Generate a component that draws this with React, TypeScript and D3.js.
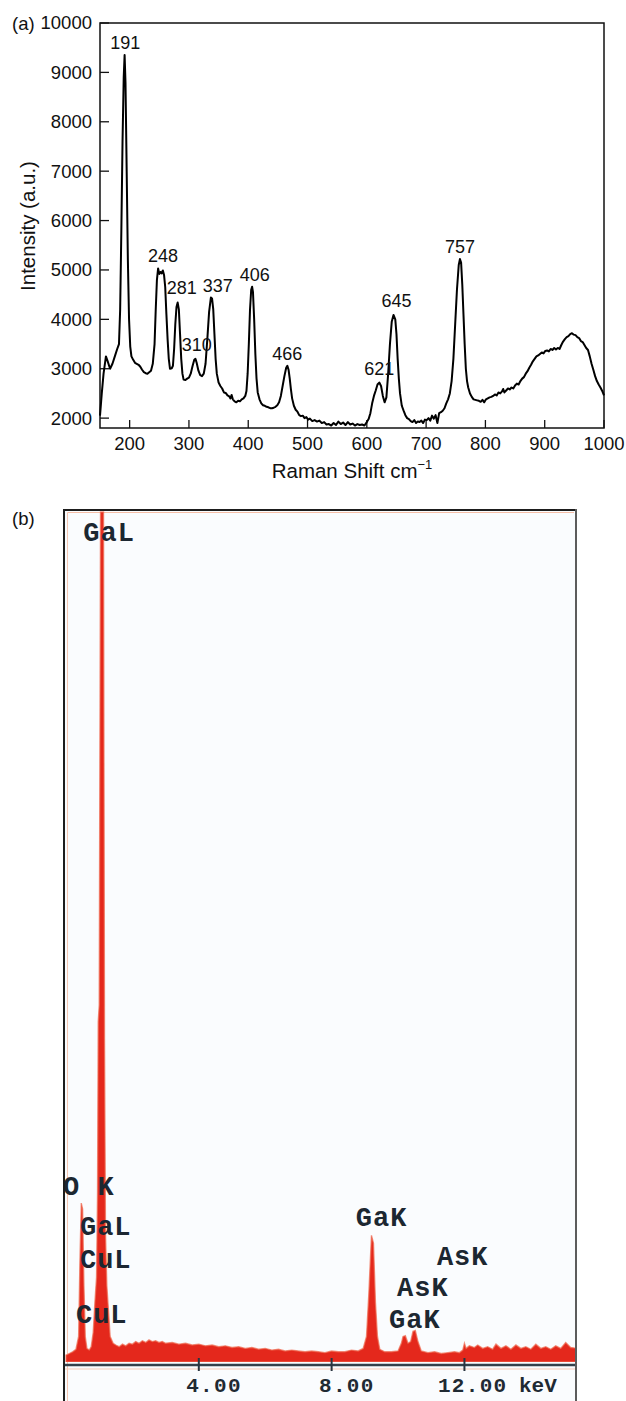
import React from 'react';
import * as d3 from 'd3';

// (a) Raman spectrum: [shift cm-1, intensity a.u.]
const ramanPoints: [number, number][] = [
  [150, 2050], [153, 2500], [156, 2900], [160, 3250], [163, 3150], [167, 3000], [171, 3100],
  [175, 3250], [179, 3400], [182, 3500], [184, 4200], [186, 5800], [188, 7600], [190, 8900],
  [191.5, 9350], [193, 8800], [195, 7000], [197, 5200], [199, 4000], [201, 3450], [203, 3250],
  [206, 3180], [209, 3120], [212, 3100], [215, 3080], [218, 3040], [221, 2980], [224, 2930],
  [227, 2910], [230, 2900], [233, 2930], [236, 2960], [239, 3100], [242, 3500], [244, 4200],
  [246, 4800], [248, 5030], [250, 4920], [252, 4960], [254, 4930], [256, 4990], [258, 4900],
  [260, 4650], [262, 4100], [264, 3600], [266, 3200], [268, 3000], [271, 3010], [273, 3060],
  [275, 3400], [277, 3900], [279, 4250], [281, 4340], [283, 4200], [285, 3700], [287, 3200],
  [289, 2900], [291, 2780], [294, 2770], [297, 2800], [300, 2820], [303, 2900], [306, 3050],
  [309, 3180], [311, 3200], [313, 3120], [316, 2960], [319, 2870], [322, 2850], [325, 2900],
  [328, 3100], [331, 3600], [334, 4150], [337, 4440], [339, 4420], [341, 4200], [343, 3700],
  [345, 3200], [347, 2900], [350, 2720], [353, 2650], [356, 2600], [359, 2520], [362, 2510],
  [365, 2460], [368, 2440], [370, 2400], [372, 2470], [374, 2380], [377, 2340], [380, 2320],
  [383, 2350], [386, 2340], [389, 2380], [392, 2400], [395, 2450], [397, 2550], [399, 2900],
  [401, 3500], [403, 4200], [405, 4600], [406.5, 4660], [408, 4550], [410, 4000], [412, 3300],
  [414, 2800], [416, 2520], [419, 2380], [422, 2300], [425, 2260], [428, 2250], [431, 2230],
  [434, 2220], [437, 2200], [440, 2200], [443, 2210], [446, 2230], [449, 2260], [452, 2320],
  [455, 2450], [458, 2650], [461, 2850], [464, 3020], [466, 3060], [468, 2980], [470, 2800],
  [472, 2580], [474, 2400], [477, 2250], [480, 2170], [483, 2130], [486, 2060], [489, 2040],
  [492, 2050], [495, 2000], [498, 2020], [501, 1970], [504, 1990], [508, 1940], [512, 1960],
  [516, 1930], [520, 1950], [524, 1900], [528, 1920], [532, 1870], [536, 1880], [540, 1850],
  [544, 1900], [548, 1860], [552, 1930], [556, 1880], [560, 1910], [564, 1860], [568, 1920],
  [572, 1870], [576, 1890], [580, 1850], [584, 1880], [588, 1860], [592, 1870], [596, 1850],
  [600, 1920], [603, 1980], [606, 2100], [609, 2300], [612, 2450], [615, 2560], [618, 2680],
  [621, 2720], [624, 2650], [627, 2450], [630, 2320], [633, 2420], [636, 2900], [639, 3500],
  [642, 3950], [645, 4090], [648, 4000], [650, 3700], [652, 3200], [654, 2800], [656, 2500],
  [659, 2250], [662, 2150], [665, 2060], [668, 2000], [671, 1980], [674, 1940], [677, 1920],
  [680, 1960], [683, 1900], [686, 1930], [689, 1920], [692, 1950], [695, 1900], [698, 1970],
  [701, 1960], [704, 2000], [707, 1950], [710, 2050], [713, 1990], [716, 2060], [719, 1900],
  [722, 2100], [725, 2120], [728, 2150], [731, 2200], [734, 2300], [737, 2380], [740, 2500],
  [743, 2750], [746, 3200], [749, 3900], [752, 4600], [755, 5100], [757, 5220], [759, 5150],
  [761, 4700], [763, 4100], [765, 3500], [767, 3000], [769, 2750], [771, 2620], [774, 2500],
  [777, 2430], [780, 2380], [783, 2370], [786, 2360], [789, 2350], [792, 2330], [795, 2370],
  [798, 2320], [801, 2380], [804, 2400], [807, 2420], [810, 2430], [813, 2450], [816, 2480],
  [819, 2460], [822, 2520], [825, 2500], [828, 2540], [830, 2590], [832, 2520], [835, 2560],
  [838, 2600], [841, 2580], [844, 2620], [847, 2600], [850, 2660], [853, 2700], [856, 2680],
  [859, 2750], [862, 2800], [865, 2830], [868, 2900], [871, 2950], [874, 3020], [877, 3080],
  [880, 3150], [883, 3200], [886, 3250], [889, 3270], [892, 3300], [895, 3330], [898, 3310],
  [901, 3360], [904, 3370], [907, 3350], [910, 3400], [913, 3380], [916, 3420], [919, 3390],
  [922, 3420], [925, 3400], [928, 3480], [931, 3550], [934, 3600], [937, 3640], [940, 3660],
  [943, 3700], [946, 3720], [949, 3690], [952, 3680], [955, 3640], [958, 3620], [961, 3560],
  [964, 3540], [967, 3480], [970, 3420], [973, 3380], [976, 3250], [979, 3100], [982, 2980],
  [985, 2850], [988, 2750], [991, 2680], [994, 2620], [997, 2550], [1000, 2460],
];

const ramanPeaks = [191, 248, 281, 310, 337, 406, 466, 621, 645, 757];
const ramanXTicks = [200, 300, 400, 500, 600, 700, 800, 900, 1000];
const ramanYTicks = [2000, 3000, 4000, 5000, 6000, 7000, 8000, 9000, 10000];

// (b) EDS spectrum: [energy keV, counts] (GaL peak runs off the top)
const edsPoints: [number, number][] = [
  [0, 8], [0.1, 10], [0.2, 12], [0.3, 15], [0.38, 30], [0.42, 120], [0.46, 187], [0.5, 180],
  [0.54, 90], [0.58, 30], [0.63, 16], [0.7, 14], [0.76, 18], [0.82, 35], [0.87, 70],
  [0.92, 100], [0.95, 200], [0.97, 400], [1.0, 420], [1.04, 1000], [1.13, 1000], [1.16, 380],
  [1.19, 150], [1.23, 90], [1.28, 60], [1.33, 30], [1.42, 22], [1.5, 20], [1.6, 18], [1.7, 21],
  [1.8, 19], [1.9, 22], [2.0, 21], [2.1, 24], [2.2, 22], [2.3, 25], [2.4, 23], [2.5, 26],
  [2.6, 24], [2.7, 25], [2.8, 23], [2.9, 24], [3.0, 22], [3.2, 23], [3.4, 21], [3.6, 22],
  [3.8, 20], [4.0, 21], [4.2, 19], [4.4, 20], [4.6, 18], [4.8, 19], [5.0, 17], [5.2, 18],
  [5.4, 16], [5.6, 17], [5.8, 15], [6.0, 16], [6.2, 14], [6.4, 15], [6.6, 13], [6.8, 14],
  [7.0, 13], [7.2, 12], [7.4, 13], [7.6, 12], [7.8, 11], [8.0, 13], [8.2, 12], [8.4, 12],
  [8.6, 14], [8.8, 13], [8.95, 16], [9.05, 30], [9.12, 80], [9.2, 149], [9.26, 140], [9.32, 70],
  [9.38, 30], [9.45, 15], [9.6, 12], [9.8, 12], [10.0, 13], [10.1, 22], [10.15, 30], [10.22, 31],
  [10.3, 22], [10.38, 24], [10.45, 36], [10.52, 37], [10.6, 24], [10.7, 13], [10.9, 11],
  [11.1, 12], [11.3, 10], [11.5, 11], [11.7, 12], [11.85, 11], [11.95, 14], [12.0, 22],
  [12.05, 16], [12.15, 19], [12.3, 17], [12.4, 20], [12.55, 16], [12.7, 18], [12.85, 15],
  [12.95, 21], [13.1, 16], [13.25, 19], [13.4, 15], [13.55, 20], [13.7, 16], [13.85, 18],
  [14.0, 15], [14.15, 21], [14.3, 16], [14.45, 18], [14.6, 15], [14.75, 19], [14.9, 16],
  [15.05, 23], [15.2, 17], [15.4, 16],
];

const edsTicks = [4, 8, 12];
const edsLabels = ['GaL', 'O K', 'GaL', 'CuL', 'CuL', 'GaK', 'AsK', 'AsK', 'GaK'];

const sans = '"Liberation Sans", Arial, Helvetica, sans-serif';
const mono = '"Liberation Mono", "Courier New", monospace';

export default function App() {
  // panel (a)
  const x = d3.scaleLinear().domain([150, 1000]).range([100, 604]);
  const y = d3.scaleLinear().domain([1800, 10000]).range([428, 23]);
  const line = d3.line<[number, number]>().x(d => x(d[0])).y(d => y(d[1]));

  // peak label nudges (px)
  const dx: Record<number, number> = { 248: 5, 281: 4, 310: 2, 337: 7, 406: 3, 645: 3, 191: 1 };
  const dy: Record<number, number> = { 281: -3, 310: -2, 621: -2, 645: -2 };
  const peakTop = (p: number) => {
    const near = ramanPoints.filter(d => Math.abs(d[0] - p) <= 3);
    return d3.max(near, d => d[1]) as number;
  };

  // panel (b)
  const ex = d3.scaleLinear().domain([0, 15.36]).range([66, 576]);
  const ey = d3.scaleLinear().domain([0, 1000]).range([1362, 512]);
  const area = d3.area<[number, number]>().x(d => ex(d[0])).y0(ey(0)).y1(d => ey(d[1]));

  // where the element labels sit: [keV, counts]
  const edsLabelAt: [number, number][] = [
    [0.52, 966], [-0.09, 197], [0.42, 149], [0.42, 111], [0.3, 46],
    [8.73, 160], [11.17, 114], [9.97, 78], [9.73, 40],
  ];

  return (
    <div style={{ position: 'absolute', left: 0, top: 0 }}>
      <svg width={626} height={1401} style={{ display: 'block', background: '#fff' }}>
        {/* ---------- (a) ---------- */}
        <text x={12} y={30} fontFamily={sans} fontSize={18.5} fill="#111">(a)</text>
        <rect x={100} y={23} width={504} height={405} fill="none" stroke="#111" strokeWidth={1.5} />
        {ramanYTicks.map(t => (
          <g key={'y' + t}>
            <line x1={100} x2={109} y1={y(t)} y2={y(t)} stroke="#111" strokeWidth={1.3} />
            <text x={92} y={y(t)} dy="0.35em" textAnchor="end" fontFamily={sans} fontSize={18.5} fill="#111">{t}</text>
          </g>
        ))}
        {ramanXTicks.map(t => (
          <g key={'x' + t}>
            <line x1={x(t)} x2={x(t)} y1={428} y2={420} stroke="#111" strokeWidth={1.3} />
            <text x={x(t)} y={450} textAnchor="middle" fontFamily={sans} fontSize={18.5} fill="#111">{t}</text>
          </g>
        ))}
        <path d={line(ramanPoints) || ''} fill="none" stroke="#000" strokeWidth={2} strokeLinejoin="round" />
        {ramanPeaks.map(p => (
          <text key={'p' + p} x={x(p) + (dx[p] || 0)} y={y(peakTop(p)) - 6 + (dy[p] || 0)}
            textAnchor="middle" fontFamily={sans} fontSize={18} fill="#111">{p}</text>
        ))}
        <text x={352} y={478} textAnchor="middle" fontFamily={sans} fontSize={20.5} fill="#111">
          Raman Shift cm<tspan dy={-9} fontSize={13}>−1</tspan>
        </text>
        <text transform="translate(35,226) rotate(-90)" textAnchor="middle" fontFamily={sans} fontSize={20.5} fill="#111">
          Intensity (a.u.)
        </text>

        {/* ---------- (b) ---------- */}
        <text x={12} y={525} fontFamily={sans} fontSize={18.5} fill="#111">(b)</text>
        <defs>
          <clipPath id="edsClip">
            <rect x={65} y={511} width={510} height={851} />
          </clipPath>
        </defs>
        <rect x={64} y={510} width={512} height={895} fill="#fafcfe" />
        <line x1={67.5} x2={574} y1={512.5} y2={512.5} stroke="#f5bfa8" strokeWidth={1} />
        <line x1={67.5} x2={67.5} y1={512.5} y2={1401} stroke="#f5c6b2" strokeWidth={1} />
        <g clipPath="url(#edsClip)">
          <path d={area(edsPoints) || ''} fill="#e4281c" stroke="#ef6a50" strokeWidth={1.4} strokeOpacity={0.7} />
        </g>
        <line x1={64} x2={576} y1={1369} y2={1369} stroke="#f6cbb8" strokeWidth={1} />
        <line x1={64} x2={576} y1={1365} y2={1365} stroke="#34414b" strokeWidth={2.5} />
        {edsTicks.map(t => (
          <g key={'e' + t}>
            <line x1={ex(t)} x2={ex(t)} y1={1358} y2={1371} stroke="#2a3540" strokeWidth={2} />
            <text x={ex(t) + 43} y={1392} textAnchor="end" fontFamily={mono} fontWeight="bold" fontSize={21}
              letterSpacing={1.3} fill="#1f2a33">{t.toFixed(2)}</text>
          </g>
        ))}
        <text x={519} y={1392} fontFamily={mono} fontWeight="bold" fontSize={21} fill="#1f2a33">keV</text>
        {edsLabels.map((s, i) => (
          <text key={'l' + i} x={ex(edsLabelAt[i][0])} y={ey(edsLabelAt[i][1])} fontFamily={mono}
            fontWeight="bold" fontSize={27} letterSpacing={1} fill="#1c2731" xmlSpace="preserve">{s}</text>
        ))}
        <line x1={64} x2={64} y1={509} y2={1401} stroke="#1d1d1d" strokeWidth={2} />
        <line x1={63} x2={577} y1={510} y2={510} stroke="#1d1d1d" strokeWidth={2} />
        <line x1={576} x2={576} y1={509} y2={1401} stroke="#5c5c5c" strokeWidth={2} />
      </svg>
    </div>
  );
}
